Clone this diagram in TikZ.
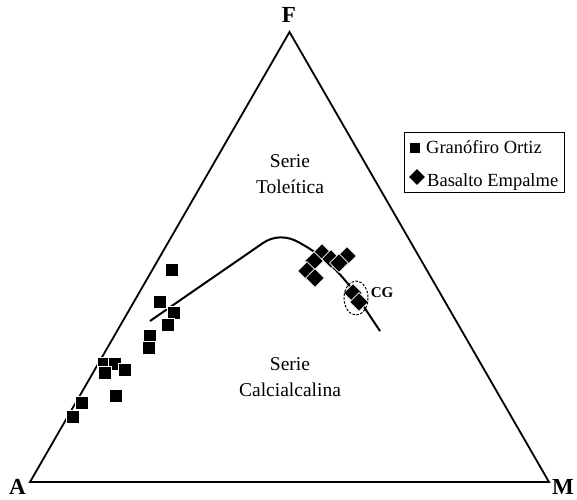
\documentclass[tikz,border=0pt]{standalone}
\usepackage{fontspec}
\setmainfont{Liberation Serif}
\usetikzlibrary{shapes.geometric}
\tikzset{
  gsq/.style={rectangle, fill=black, draw=white, line width=0.6pt, minimum size=13.5pt, inner sep=0pt},
  bdia/.style={diamond, fill=black, draw=white, line width=0.6pt, minimum size=19pt, inner sep=0pt},
  vlab/.style={font=\fontsize{23}{25}\selectfont\bfseries, inner sep=0pt, anchor=base},
  field/.style={font=\fontsize{19.5}{26}\selectfont, align=center, inner sep=0pt},
  legtxt/.style={font=\fontsize{18.5}{21}\selectfont, anchor=base west, inner sep=0pt},
}
\begin{document}
\begin{tikzpicture}[x=1pt,y=-1pt]
\useasboundingbox (0,0) rectangle (577,499);
% triangle
\coordinate (A) at (30,482);
\coordinate (F) at (289.5,32);
\coordinate (M) at (549,482);
\draw[line width=1.8pt, line join=miter] (A) -- (F) -- (M) -- cycle;
\node[vlab] (lF) at (289,22) {F};
\node[vlab] (lA) at (17.5,494.5) {A};
\node[vlab] (lM) at (563,494.5) {M};
% fields
\node[field] (tol) at (290,174) {Serie\\Toleítica};
\node[field] (cal) at (290,377) {Serie\\Calcialcalina};
% trend curve
\coordinate (c0) at (150,321);
\coordinate (c1) at (263,243);
\coordinate (c2) at (300,243);
\coordinate (c3) at (354,292);
\coordinate (c4) at (380,331);
\draw[line width=2pt] (c0) -- (c1) .. controls (273,236) and (287,235) .. (c2)
  .. controls (322,255) and (340,272) .. (c3) -- (c4);
% granofiro squares
\node[gsq] (g1) at (172,270) {};
\node[gsq] (g2) at (160,302) {};
\node[gsq] (g3) at (174,313) {};
\node[gsq] (g4) at (168,325) {};
\node[gsq] (g5) at (150,336) {};
\node[gsq] (g6) at (149,348) {};
\node[gsq] (g7) at (104,364) {};
\node[gsq] (g8) at (115,364) {};
\node[gsq] (g9) at (125,370) {};
\node[gsq] (g10) at (105,373) {};
\node[gsq] (g11) at (116,396) {};
\node[gsq] (g12) at (82,403) {};
\node[gsq] (g13) at (73,417) {};
% basalto diamonds
\node[bdia] (b1) at (322,253) {};
\node[bdia] (b2) at (314,261) {};
\node[bdia] (b3) at (331,259) {};
\node[bdia] (b4) at (347,256) {};
\node[bdia] (b5) at (339,263) {};
\node[bdia] (b6) at (307,271) {};
\node[bdia] (b7) at (315,278) {};
\node[bdia] (b8) at (353,293) {};
\node[bdia] (b9) at (359,302) {};
% CG
\draw[line width=1pt, dash pattern=on 2.5pt off 1.5pt] (356,298) ellipse [x radius=12, y radius=17];
\node[font=\fontsize{15}{17}\selectfont\bfseries, inner sep=0pt] (cg) at (382,293) {CG};
% legend
\node[draw, line width=0.8pt, minimum width=160pt, minimum height=60pt, inner sep=0pt] (leg) at (484,162) {};
\node[gsq, minimum size=10pt, draw=none] (lg1) at (415,148) {};
\node[legtxt] (lt1) at (426,153) {Granófiro Ortiz};
\node[bdia, minimum size=16pt, draw=none] (lg2) at (417,177) {};
\node[legtxt] (lt2) at (427,186.5) {Basalto Empalme};
\end{tikzpicture}
\end{document}
